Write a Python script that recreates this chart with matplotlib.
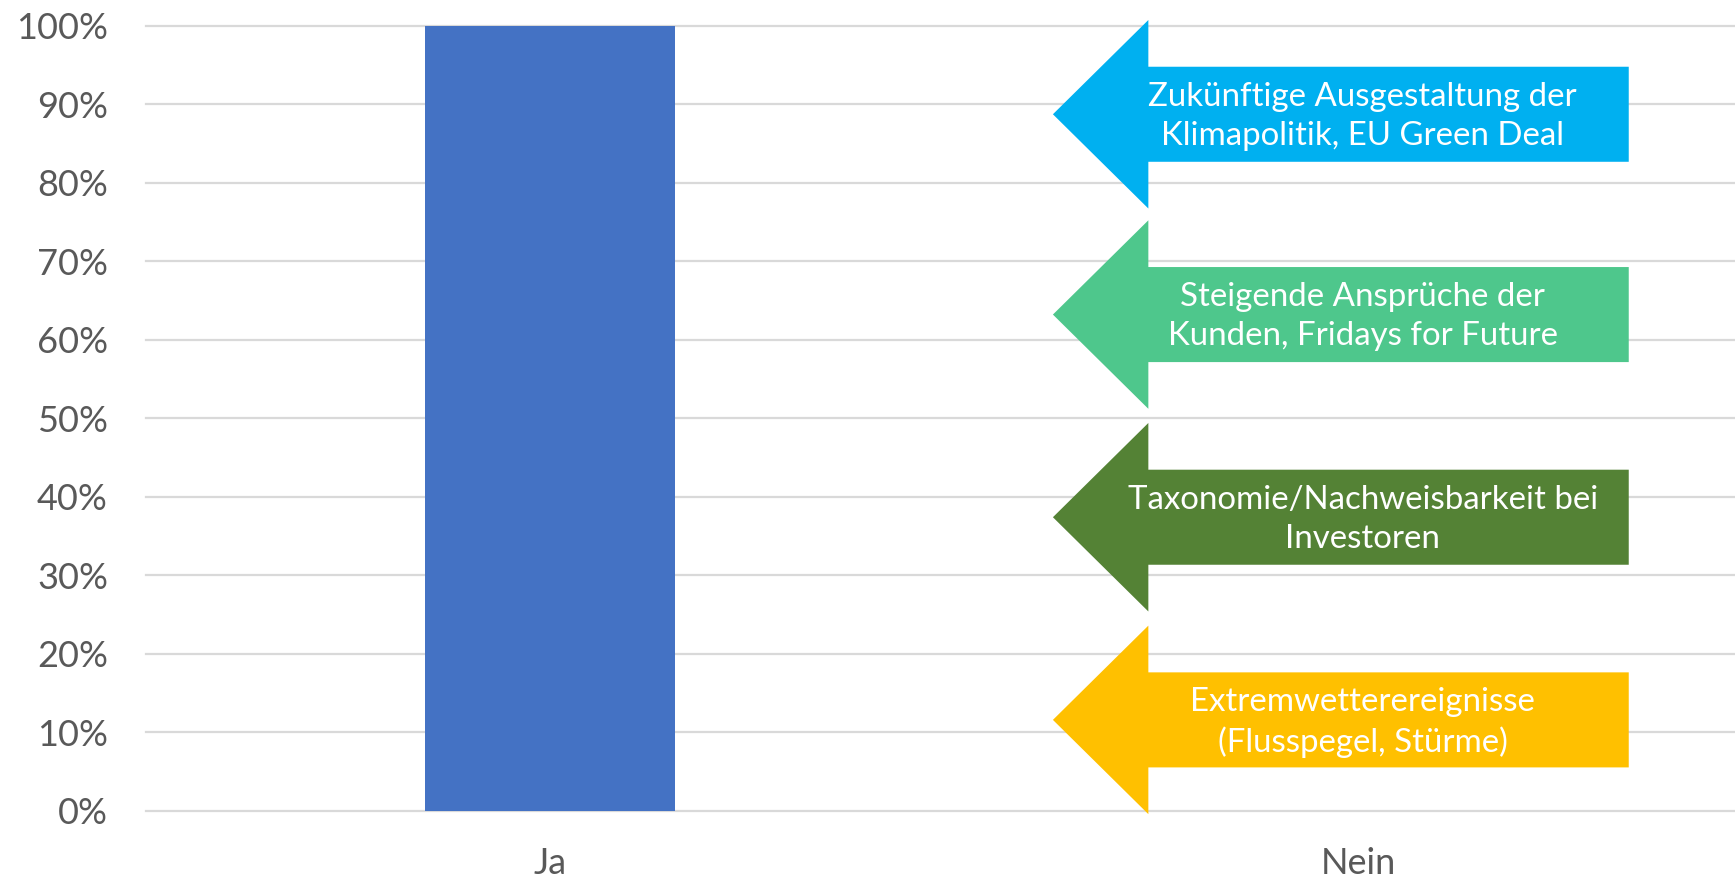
import matplotlib
matplotlib.use("Agg")
import matplotlib.pyplot as plt
from matplotlib.patches import Polygon
from matplotlib.ticker import FuncFormatter

# ---- data ----
categories = ["Ja", "Nein"]
values = [100, 0]
arrow_labels = [
    "Zukünftige Ausgestaltung der\nKlimapolitik, EU Green Deal",
    "Steigende Ansprüche der\nKunden, Fridays for Future",
    "Taxonomie/Nachweisbarkeit bei\nInvestoren",
    "Extremwetterereignisse\n(Flusspegel, Stürme)",
]
arrow_colors = ["#00B0F0", "#4EC78C", "#548235", "#FFC000"]
arrow_centers = [88.7, 63.2, 37.4, 11.6]   # % level of each arrow tip
y_ticks = list(range(0, 101, 10))

plt.rcParams["font.family"] = ["Lato", "DejaVu Sans"]

W, H = 1735, 883
fig = plt.figure(figsize=(W / 100, H / 100), dpi=100)
fig.patch.set_facecolor("white")

left_px, right_px = 145.5, 1763.0
top_px, bottom_px = 25.5, 811.0
ax = fig.add_axes([left_px / W, (H - bottom_px) / H,
                   (right_px - left_px) / W, (bottom_px - top_px) / H])

ax.bar(range(len(categories)), values, width=0.31, color="#4472C4", zorder=2)

ax.set_xlim(-0.5, 1.5)
ax.set_ylim(0, 100)
ax.set_yticks(y_ticks)
ax.yaxis.set_major_formatter(FuncFormatter(lambda v, p: f"{int(v)}%"))
ax.set_xticks(range(len(categories)))
ax.set_xticklabels(categories)

for s in ax.spines.values():
    s.set_visible(False)
ax.tick_params(axis="both", length=0, labelsize=26, labelcolor="#595959")
ax.tick_params(axis="y", pad=27)
ax.tick_params(axis="x", pad=26)

for yv in y_ticks:
    ax.axhline(yv, color="#D9D9D9", lw=1.6, zorder=1, clip_on=False)

# block arrows (left-pointing)
x_tip, x_base, x_right = 0.622, 0.740, 1.334
head_half, shaft_half = 12.0, 6.05
for lab, col, yc in zip(arrow_labels, arrow_colors, arrow_centers):
    pts = [
        (x_tip, yc),
        (x_base, yc + head_half),
        (x_base, yc + shaft_half),
        (x_right, yc + shaft_half),
        (x_right, yc - shaft_half),
        (x_base, yc - shaft_half),
        (x_base, yc - head_half),
    ]
    ax.add_patch(Polygon(pts, closed=True, facecolor=col, edgecolor="none",
                         zorder=3, clip_on=False))
    ax.text(1.005, yc - 0.3, lab, ha="center", va="center", color="white",
            fontsize=23.8, linespacing=1.38, zorder=4)

fig.savefig("out.png", dpi=100)
